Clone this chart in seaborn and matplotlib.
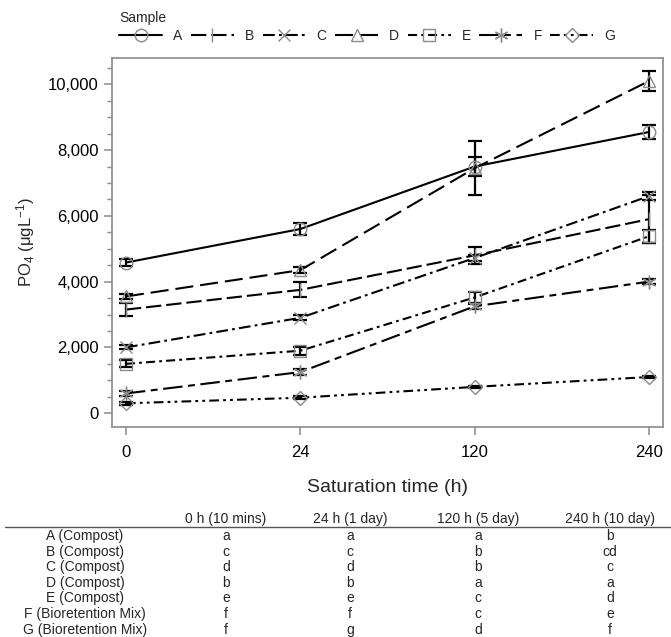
import numpy as np
import pandas as pd
import matplotlib
matplotlib.use("Agg")
import matplotlib.pyplot as plt
import seaborn as sns
from matplotlib.lines import Line2D
from matplotlib.ticker import MultipleLocator, FuncFormatter, FixedLocator

# ---------------- data ----------------
time_labels = ["0", "24", "120", "240"]
samples = ["A", "B", "C", "D", "E", "F", "G"]

A_vals = [4580, 5600, 7500, 8550]
A_err = [100, 170, 290, 200]
B_vals = [3150, 3750, 4800, 5900]
B_err = [200, 230, 250, 730]
C_vals = [2000, 2900, 4720, 6600]
C_err = [60, 80, 100, 120]
D_vals = [3550, 4350, 7450, 10100]
D_err = [80, 80, 830, 300]
E_vals = [1500, 1900, 3520, 5380]
E_err = [110, 120, 160, 200]
F_vals = [600, 1250, 3250, 4000]
F_err = [80, 80, 80, 80]
G_vals = [300, 470, 800, 1100]
G_err = [40, 40, 40, 40]

table_header = ["0 h (10 mins)", "24 h (1 day)", "120 h (5 day)", "240 h (10 day)"]
table_rows = ["A (Compost)", "B (Compost)", "C (Compost)", "D (Compost)",
              "E (Compost)", "F (Bioretention Mix)", "G (Bioretention Mix)"]
letters_0h = ["a", "c", "d", "b", "e", "f", "f"]
letters_24h = ["a", "c", "d", "b", "e", "f", "g"]
letters_120h = ["a", "b", "b", "a", "c", "c", "d"]
letters_240h = ["b", "cd", "c", "a", "d", "e", "f"]

values = {"A": A_vals, "B": B_vals, "C": C_vals, "D": D_vals,
          "E": E_vals, "F": F_vals, "G": G_vals}
errors = {"A": A_err, "B": B_err, "C": C_err, "D": D_err,
          "E": E_err, "F": F_err, "G": G_err}

pos = np.arange(len(time_labels))
df = pd.DataFrame([
    {"Sample": s, "pos": p, "value": v, "err": e}
    for s in samples
    for p, v, e in zip(pos, values[s], errors[s])
])

# ---------------- styles ----------------
markers = {"A": "o", "B": "|", "C": "x", "D": "^", "E": "s",
           "F": (6, 2, 0), "G": "D"}
msizes = {"A": 9, "B": 10, "C": 9, "D": 9, "E": 9, "F": 10, "G": 6.8}
linestyles = {
    "A": "-",
    "B": (0, (11, 3.6)),
    "C": (0, (8.5, 3, 2, 3)),
    "D": (0, (13, 5)),
    "E": (0, (6.5, 3, 2, 3)),
    "F": (0, (14, 4, 5, 4)),
    "G": (0, (7, 3, 2, 3, 2, 3)),
}

sns.set_theme(style="ticks")
plt.rcParams["font.family"] = ["Liberation Sans", "DejaVu Sans"]
plt.rcParams["mathtext.default"] = "regular"
plt.rcParams["lines.scale_dashes"] = False

fig = plt.figure(figsize=(6.71, 6.37), dpi=100)
ax = fig.add_axes([112 / 671, 1 - 427 / 637, (663 - 112) / 671, (427 - 58) / 637])

gray = "#8a8a8a"
for s in samples:
    sub = df[df["Sample"] == s]
    sns.lineplot(data=sub, x="pos", y="value", ax=ax, color="black",
                 linewidth=1.5, linestyle=linestyles[s], marker=markers[s],
                 markersize=msizes[s], markerfacecolor="none",
                 markeredgecolor=gray, markeredgewidth=1.0,
                 errorbar=None, legend=False, label=s, sort=False, zorder=4)
    ax.errorbar(sub["pos"], sub["value"], yerr=sub["err"], fmt="none",
                ecolor="black", elinewidth=1.6, capsize=4.8, capthick=1.6,
                zorder=3)

ax.set_xlim(-0.08, 3.08)
ax.set_ylim(-420, 10800)
ax.xaxis.set_major_locator(FixedLocator(pos))
ax.set_xticklabels(time_labels)
ax.yaxis.set_major_locator(MultipleLocator(2000))
ax.yaxis.set_minor_locator(MultipleLocator(500))
ax.yaxis.set_major_formatter(FuncFormatter(lambda v, _: f"{v:,.0f}"))

for sp in ax.spines.values():
    sp.set_visible(True)
    sp.set_color(gray)
    sp.set_linewidth(1.2)
ax.tick_params(axis="both", which="major", length=6, width=1.1, color=gray,
               labelcolor="black", labelsize=12, pad=3.5)
ax.tick_params(axis="x", which="major", pad=7)
ax.tick_params(axis="y", which="minor", length=3.5, width=1.0, color=gray)

ax.set_xlabel("Saturation time (h)", fontsize=14, labelpad=14)
ax.set_ylabel(r"PO$_4$ ($\mu$gL$^{-1}$)", fontsize=12, labelpad=8)

handles, labels = ax.get_legend_handles_labels()
fig.legend(handles, labels, title="Sample", ncol=7, loc="upper left",
           bbox_to_anchor=(119 / 671, 1 - 11 / 637), frameon=False,
           fontsize=10, title_fontsize=10, handlelength=3.1,
           handletextpad=0.8, columnspacing=0.6, borderpad=0,
           borderaxespad=0, alignment="left", labelspacing=0.3)

# ---------------- table ----------------
col_x = [226, 350, 478, 610]
label_x = 85
header_y = 519
row_y0 = 536
row_dy = 15.6
for cx, h in zip(col_x, table_header):
    fig.text(cx / 671, 1 - header_y / 637, h, ha="center", va="center", fontsize=10)
fig.add_artist(Line2D([5 / 671, 1.0], [1 - 527 / 637, 1 - 527 / 637],
                      transform=fig.transFigure, color="#555555", lw=1.0))
columns = [letters_0h, letters_24h, letters_120h, letters_240h]
for i, name in enumerate(table_rows):
    y = 1 - (row_y0 + i * row_dy) / 637
    fig.text(label_x / 671, y, name, ha="center", va="center", fontsize=10)
    for cx, col in zip(col_x, columns):
        fig.text(cx / 671, y, col[i], ha="center", va="center", fontsize=10)

fig.savefig("out.png", dpi=100)
